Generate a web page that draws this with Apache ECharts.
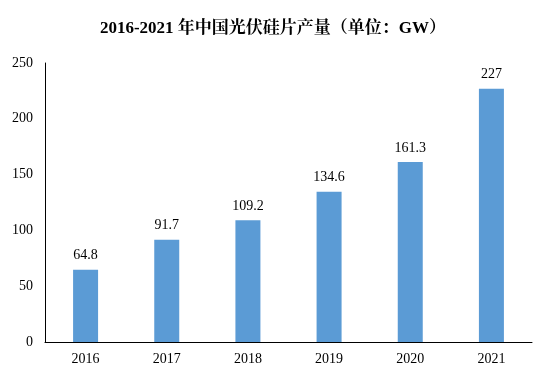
<!DOCTYPE html>
<html><head><meta charset="utf-8">
<script src="https://cdn.jsdelivr.net/npm/echarts@6/dist/echarts.min.js"></script>
<style>html,body{margin:0;padding:0;background:#fff}#c{width:546px;height:372px}</style>
</head><body><div id="c"></div>
<script>
const categories = ['2016','2017','2018','2019','2020','2021'];
const production = [64.8, 91.7, 109.2, 134.6, 161.3, 227];
const yTicks = [0, 50, 100, 150, 200, 250];
const titleText = '2016-2021 年中国光伏硅片产量（单位：GW）';

const serif = '"Liberation Serif","Times New Roman","Noto Serif CJK SC","Noto Sans CJK SC",serif';
const chart = echarts.init(document.getElementById('c'));
chart.setOption({
  animation: false,
  backgroundColor: '#fff',
  title: {
    text: titleText, left: 'center', top: 15,
    textStyle: { fontFamily: serif, fontSize: 17, fontWeight: 'bold', color: '#000' }
  },
  grid: { left: 45, right: 14, top: 63, bottom: 30, containLabel: false },
  xAxis: {
    type: 'category', data: categories,
    axisLine: { lineStyle: { color: '#000', width: 1 } },
    axisTick: { show: false },
    axisLabel: { fontFamily: serif, fontSize: 14, color: '#000', margin: 10 }
  },
  yAxis: {
    type: 'value', min: yTicks[0], max: yTicks[yTicks.length-1], interval: 50,
    axisLine: { show: true, lineStyle: { color: '#000', width: 1 } },
    axisTick: { show: false },
    splitLine: { show: false },
    axisLabel: { fontFamily: serif, fontSize: 14, color: '#000', margin: 12 }
  },
  series: [{
    type: 'bar', data: production, barWidth: 25,
    itemStyle: { color: '#5B9BD5' },
    label: { show: true, position: 'top', distance: 7, fontFamily: serif, fontSize: 14, color: '#000' }
  }]
});
</script></body></html>
